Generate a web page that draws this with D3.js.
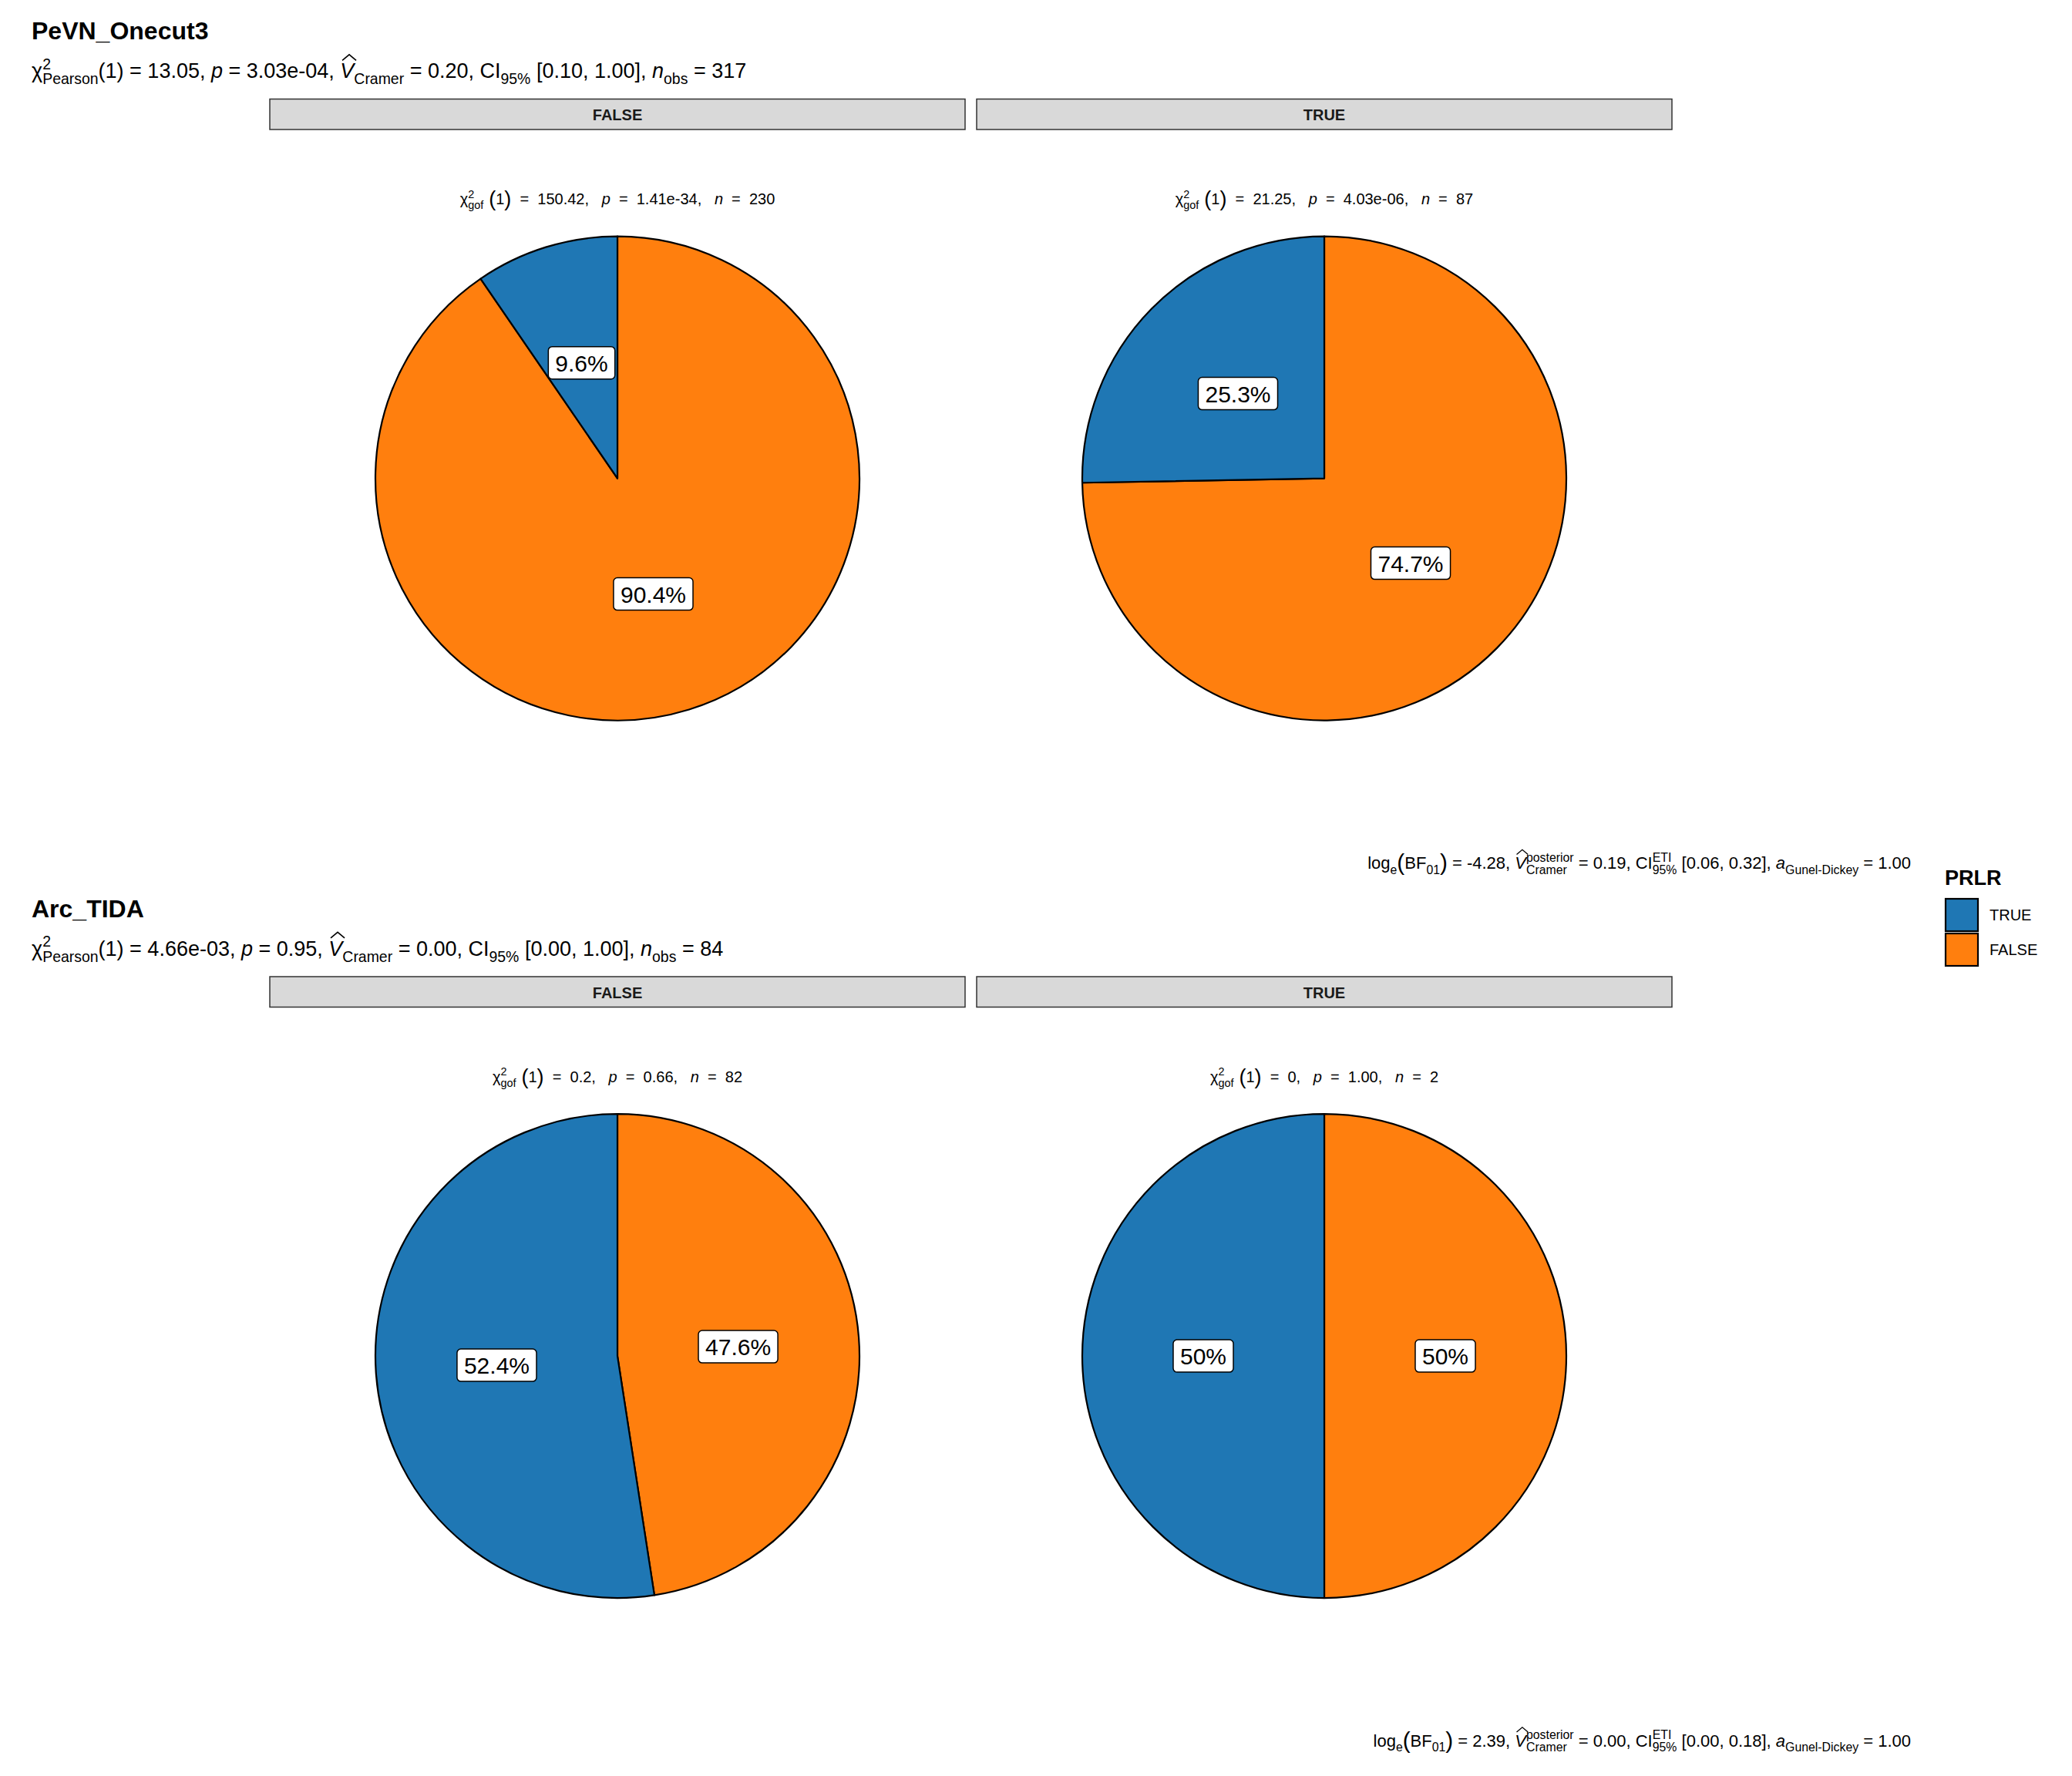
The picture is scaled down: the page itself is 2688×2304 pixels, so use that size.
<!DOCTYPE html>
<html>
<head>
<meta charset="utf-8">
<script src="https://cdn.jsdelivr.net/npm/d3@7"></script>
<style>
body { margin: 0; background: #fff; }
text { font-family: "Liberation Sans", Arial, Helvetica, sans-serif; white-space: pre; }
</style>
</head>
<body>
<div id="chart"></div>
<script>
var panels = ["PeVN_Onecut3", "Arc_TIDA"];
var facets = ["FALSE", "TRUE"];
var levels = ["FALSE", "TRUE"];        // clockwise from 12 o'clock
var legendLevels = ["TRUE", "FALSE"];
var colors = { "TRUE": "#1F77B4", "FALSE": "#FF7F0E" };

// PRLR counts per panel, per facet (FALSE, TRUE)
var trueCounts = [[22, 22], [43, 1]];
var falseCounts = [[208, 65], [39, 1]];

// statistics shown as text
var pearsonChi = ["13.05", "4.66e-03"];
var pearsonP = ["3.03e-04", "0.95"];
var cramerV = ["0.20", "0.00"];
var cramerCI = ["[0.10, 1.00]", "[0.00, 1.00]"];
var nObs = ["317", "84"];
var gofChi = [["150.42", "21.25"], ["0.2", "0"]];
var gofP = [["1.41e-34", "4.03e-06"], ["0.66", "1.00"]];
var gofN = [["230", "87"], ["82", "2"]];
var bfLog = ["-4.28", "2.39"];
var bfV = ["0.19", "0.00"];
var bfCI = ["[0.06, 0.32]", "[0.00, 0.18]"];
var bfA = ["1.00", "1.00"];

var width = 2688, height = 2304;
var rowStep = 1138.5;
var facetX = [350, 1267], facetW = 902;
var radius = 314;

var svg = d3.select("#chart").append("svg")
    .attr("width", width)
    .attr("height", height);
svg.append("rect").attr("width", width).attr("height", height).attr("fill", "#fff");

// draws a list of text pieces one after another, returns the group
function richText(parent, segs, size, anchor) {
  var g = parent.append("g");
  var x = 0;
  function piece(txt, px, py, fs, italic) {
    var t = g.append("text").attr("x", px).attr("y", py)
      .style("font-size", fs + "px")
      .style("font-style", italic ? "italic" : "normal")
      .attr("fill", "#000")
      .text(txt);
    return t.node().getComputedTextLength();
  }
  segs.forEach(function (s) {
    var type = s[0];
    if (type === "n") x += piece(s[1], x, 0, size, false);
    else if (type === "i") x += piece(s[1], x, 0, size, true);
    else if (type === "sp") x += size * s[1];
    else if (type === "big") x += piece(s[1], x, size * 0.1, size * 1.35, false);
    else if (type === "sub") x += piece(s[1], x, size * 0.3, size * 0.72, false);
    else if (type === "ss") {
      var w1 = piece(s[1], x, -size * 0.42, size * 0.72, false);
      var w2 = piece(s[2], x, size * 0.3, size * 0.72, false);
      x += Math.max(w1, w2);
    } else if (type === "hat") {
      var w = piece(s[1], x, 0, size, true);
      g.append("path")
        .attr("d", "M" + (x + w * 0.15) + "," + (-size * 0.84) +
                   "L" + (x + w * 0.65) + "," + (-size * 1.12) +
                   "L" + (x + w * 1.15) + "," + (-size * 0.84))
        .attr("fill", "none").attr("stroke", "#000").attr("stroke-width", size * 0.06);
      x += w;
    }
  });
  if (anchor === "middle") g.attr("data-shift", -x / 2);
  else if (anchor === "end") g.attr("data-shift", -x);
  else g.attr("data-shift", 0);
  return g;
}

function place(g, px, py) {
  g.attr("transform", "translate(" + (px + (+g.attr("data-shift"))) + "," + py + ")");
}

var pie = d3.pie().sort(null).value(function (d) { return d.n; });
var arc = d3.arc().innerRadius(0).outerRadius(radius);
var labelArc = d3.arc().innerRadius(0).outerRadius(radius);
var pct = function (v) { return d3.format(".1f")(v).replace(/\.0$/, "") + "%"; };

panels.forEach(function (name, p) {
  var row = svg.append("g").attr("transform", "translate(0," + (p * rowStep) + ")");

  row.append("text")
    .attr("x", 41).attr("y", 51)
    .style("font-size", "32px").style("font-weight", "bold")
    .text(name);

  var sub = richText(row, [
    ["n", "\u03C7"], ["ss", "2", "Pearson"], ["n", "(1) = " + pearsonChi[p] + ", "],
    ["i", "p"], ["n", " = " + pearsonP[p] + ", "],
    ["hat", "V"], ["sub", "Cramer"], ["n", " = " + cramerV[p] + ", CI"], ["sub", "95%"],
    ["n", " " + cramerCI[p] + ", "], ["i", "n"], ["sub", "obs"], ["n", " = " + nObs[p]]
  ], 27, "start");
  place(sub, 41, 101);

  facets.forEach(function (f, j) {
    var x0 = facetX[j];
    row.append("rect")
      .attr("x", x0).attr("y", 128.5).attr("width", facetW).attr("height", 39.5)
      .attr("fill", "#D9D9D9").attr("stroke", "#333").attr("stroke-width", 1.5);
    row.append("text")
      .attr("x", x0 + facetW / 2).attr("y", 156)
      .attr("text-anchor", "middle")
      .style("font-size", "20px").style("font-weight", "bold").attr("fill", "#1a1a1a")
      .text(f);

    var cx = x0 + facetW / 2, cy = 620.6;

    var gof = richText(row, [
      ["n", "\u03C7"], ["ss", "2", "gof"], ["sp", 0.35], ["big", "("], ["n", "1"], ["big", ")"],
      ["n", "  =  " + gofChi[p][j] + ",   "],
      ["i", "p"], ["n", "  =  " + gofP[p][j] + ",   "], ["i", "n"], ["n", "  =  " + gofN[p][j]]
    ], 20, "middle");
    place(gof, cx, 265);

    var total = trueCounts[p][j] + falseCounts[p][j];
    var data = levels.map(function (l) {
      return { level: l, n: l === "TRUE" ? trueCounts[p][j] : falseCounts[p][j] };
    });
    var pg = row.append("g").attr("transform", "translate(" + cx + "," + cy + ")");
    var arcs = pie(data);
    pg.selectAll("path.slice").data(arcs).enter().append("path")
      .attr("class", "slice")
      .attr("d", arc)
      .attr("fill", function (d) { return colors[d.data.level]; })
      .attr("stroke", "#000").attr("stroke-width", 2.2)
      .attr("stroke-linejoin", "round");

    var lab = pg.selectAll("g.lab").data(arcs).enter().append("g")
      .attr("class", "lab")
      .attr("transform", function (d) { return "translate(" + labelArc.centroid(d) + ")"; });
    lab.each(function (d) {
      var g = d3.select(this);
      var t = g.append("text")
        .attr("text-anchor", "middle").attr("y", 11)
        .style("font-size", "30px").attr("fill", "#000")
        .text(pct(d.data.n / total * 100));
      var w = t.node().getComputedTextLength() + 18;
      g.insert("rect", "text")
        .attr("x", -w / 2).attr("y", -21).attr("width", w).attr("height", 42)
        .attr("rx", 5).attr("ry", 5)
        .attr("fill", "#fff").attr("stroke", "#000").attr("stroke-width", 1.5);
    });
  });

  var cap = richText(row, [
    ["n", "log"], ["sub", "e"], ["big", "("], ["n", "BF"], ["sub", "01"], ["big", ")"],
    ["n", " = " + bfLog[p] + ", "], ["hat", "V"], ["ss", "posterior", "Cramer"],
    ["n", " = " + bfV[p] + ", CI"], ["ss", "ETI", "95%"], ["n", " " + bfCI[p] + ", "],
    ["i", "a"], ["sub", "Gunel-Dickey"], ["n", " = " + bfA[p]]
  ], 22, "end");
  place(cap, 2479, 1127);
});

// legend
var leg = svg.append("g").attr("transform", "translate(2523,1148)");
leg.append("text").attr("x", 0).attr("y", 0)
  .style("font-size", "27px").style("font-weight", "bold").text("PRLR");
legendLevels.forEach(function (l, i) {
  leg.append("rect")
    .attr("x", 1).attr("y", 18 + i * 45).attr("width", 42).attr("height", 42)
    .attr("fill", colors[l]).attr("stroke", "#000").attr("stroke-width", 2.2);
  leg.append("text")
    .attr("x", 58).attr("y", 46 + i * 45)
    .style("font-size", "20px").text(l);
});
</script>
</body>
</html>
